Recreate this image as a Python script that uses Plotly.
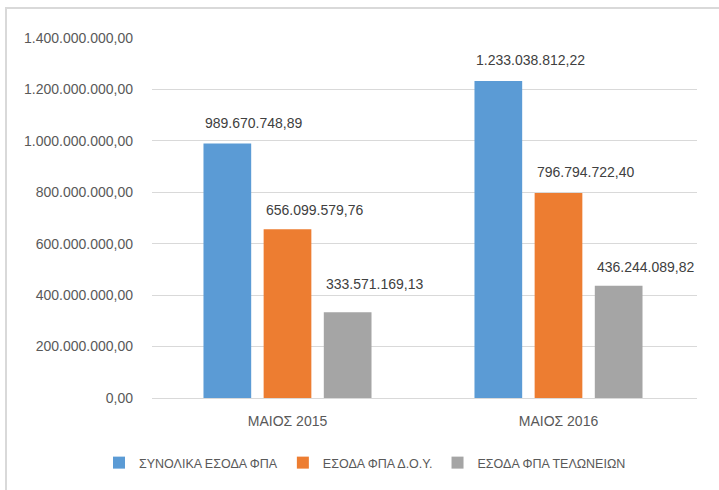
import plotly.graph_objects as go

categories = ["ΜΑΙΟΣ 2015", "ΜΑΙΟΣ 2016"]
series_names = ["ΣΥΝΟΛΙΚΑ ΕΣΟΔΑ ΦΠΑ", "ΕΣΟΔΑ ΦΠΑ Δ.Ο.Υ.", "ΕΣΟΔΑ ΦΠΑ ΤΕΛΩΝΕΙΩΝ"]
total_vat = [989670748.89, 1233038812.22]
doy_vat = [656099579.76, 796794722.40]
customs_vat = [333571169.13, 436244089.82]
y_ticks = [0, 200e6, 400e6, 600e6, 800e6, 1000e6, 1200e6, 1400e6]

colors = ["#5B9BD5", "#ED7D31", "#A5A5A5"]
series = [total_vat, doy_vat, customs_vat]
# label vertical offsets (px from bar top to label centre), per series per category
label_offsets = [[21, 21], [19, 21], [28, 19]]


def fmt(v):
    s = f"{v:,.2f}"
    return s.replace(",", "X").replace(".", ",").replace("X", ".")


FONT = "Liberation Sans, Arial, sans-serif"
W, H = 719, 490
ml, mr, mt, mb = 152, 22, 38, 92
pw = W - ml - mr
ph = H - mt - mb

fig = go.Figure()
for name, vals, col in zip(series_names, series, colors):
    fig.add_trace(go.Bar(x=categories, y=vals, name=name, marker_color=col,
                         marker_line_width=0, hoverinfo="skip"))

bargap = 0.334
bargroupgap = 0.207
cat_w = pw / len(categories)
group_w = cat_w * (1 - bargap)
slot_w = group_w / 3
bar_w = slot_w * (1 - bargroupgap)

annotations = []
for si, vals in enumerate(series):
    for ci, v in enumerate(vals):
        slot_left = -group_w / 2 + si * slot_w + (slot_w - bar_w) / 2
        annotations.append(dict(
            x=categories[ci], y=v, xref="x", yref="y",
            text=fmt(v), showarrow=False,
            xanchor="left", yanchor="middle",
            xshift=slot_left, yshift=label_offsets[si][ci],
            font=dict(family=FONT, size=14, color="#404040"),
        ))

px_to_xpaper = lambda px: (px - ml) / pw
py_to_ypaper = lambda py: (H - mb - py) / ph
shapes = [
    dict(type="line", xref="paper", yref="paper",
         x0=px_to_xpaper(6), x1=px_to_xpaper(6),
         y0=py_to_ypaper(8), y1=py_to_ypaper(495),
         line=dict(color="#D9D9D9", width=2)),
    dict(type="line", xref="paper", yref="paper",
         x0=px_to_xpaper(5), x1=px_to_xpaper(725),
         y0=py_to_ypaper(8), y1=py_to_ypaper(8),
         line=dict(color="#D9D9D9", width=2)),
]

fig.update_layout(
    width=W, height=H,
    margin=dict(l=ml, r=mr, t=mt, b=mb, pad=0, autoexpand=False),
    paper_bgcolor="white", plot_bgcolor="white",
    barmode="group", bargap=bargap, bargroupgap=bargroupgap,
    separators=",.",
    font=dict(family=FONT, size=14, color="#595959"),
    showlegend=True,
    legend=dict(orientation="h", x=px_to_xpaper(365), xanchor="center",
                y=py_to_ypaper(463), yanchor="middle",
                font=dict(size=12.5, color="#595959"),
                itemwidth=30, tracegroupgap=0, bgcolor="rgba(0,0,0,0)"),
    annotations=annotations,
    shapes=shapes,
)
fig.update_xaxes(showgrid=False, showline=True, linecolor="#D9D9D9", linewidth=1,
                 ticks="", tickfont=dict(size=14, color="#595959"),
                 ticklabelstandoff=10)
fig.update_yaxes(range=[0, 1.4e9], tickvals=y_ticks, tickformat=",.2f",
                 showgrid=True, gridcolor="#D9D9D9", gridwidth=1,
                 zeroline=False, showline=False, ticks="",
                 tickfont=dict(size=14, color="#595959"),
                 ticklabelstandoff=18)

fig.write_html("out.html", config={"displayModeBar": False},
               post_script="document.body.style.margin='0';")
